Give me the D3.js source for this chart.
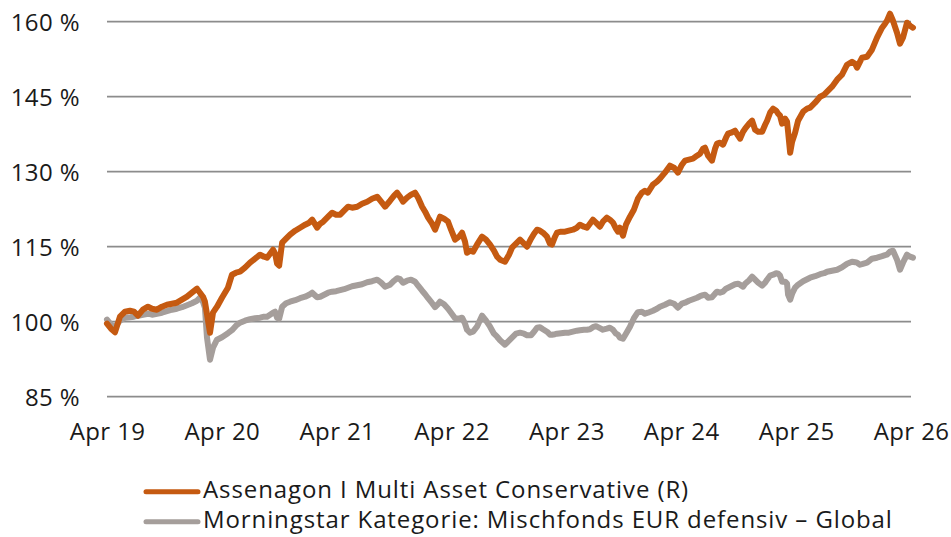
<!DOCTYPE html>
<html><head><meta charset="utf-8">
<script src="https://cdn.jsdelivr.net/npm/d3@7"></script>
<style>body{margin:0;background:#fff}text{font-family:"Open Sans",sans-serif;fill:#1a1a1a}</style>
</head><body><svg id="c" width="951" height="537"></svg>
<script>
// decimal-year dates of the readings
const dates = [2019.250,2019.285,2019.320,2019.363,2019.407,2019.450,2019.485,2019.520,2019.563,2019.607,2019.642,2019.685,2019.729,2019.772,2019.816,2019.859,2019.903,2019.947,2019.990,2020.034,2020.060,2020.086,2020.103,2020.121,2020.147,2020.173,2020.208,2020.251,2020.303,2020.338,2020.373,2020.408,2020.451,2020.495,2020.539,2020.582,2020.617,2020.643,2020.669,2020.695,2020.713,2020.730,2020.748,2020.774,2020.808,2020.843,2020.887,2020.930,2020.974,2021.009,2021.035,2021.078,2021.105,2021.131,2021.174,2021.209,2021.244,2021.279,2021.313,2021.348,2021.383,2021.427,2021.470,2021.514,2021.557,2021.601,2021.636,2021.670,2021.714,2021.749,2021.775,2021.801,2021.827,2021.862,2021.897,2021.932,2021.958,2021.993,2022.019,2022.045,2022.080,2022.106,2022.132,2022.149,2022.184,2022.219,2022.245,2022.280,2022.315,2022.341,2022.367,2022.384,2022.410,2022.437,2022.471,2022.515,2022.550,2022.585,2022.619,2022.646,2022.672,2022.715,2022.750,2022.776,2022.811,2022.846,2022.881,2022.907,2022.942,2022.968,2022.994,2023.020,2023.046,2023.081,2023.107,2023.124,2023.151,2023.168,2023.203,2023.238,2023.272,2023.307,2023.342,2023.368,2023.403,2023.429,2023.455,2023.481,2023.508,2023.542,2023.568,2023.603,2023.629,2023.656,2023.682,2023.699,2023.716,2023.743,2023.769,2023.804,2023.838,2023.873,2023.908,2023.934,2023.960,2024.004,2024.039,2024.065,2024.108,2024.152,2024.187,2024.221,2024.256,2024.282,2024.317,2024.352,2024.387,2024.413,2024.439,2024.457,2024.483,2024.517,2024.544,2024.561,2024.587,2024.613,2024.639,2024.657,2024.683,2024.718,2024.744,2024.761,2024.787,2024.805,2024.840,2024.866,2024.892,2024.918,2024.953,2024.979,2024.996,2025.022,2025.049,2025.075,2025.092,2025.109,2025.127,2025.153,2025.170,2025.179,2025.197,2025.214,2025.240,2025.266,2025.310,2025.345,2025.371,2025.414,2025.458,2025.493,2025.519,2025.562,2025.606,2025.649,2025.693,2025.736,2025.763,2025.780,2025.806,2025.823,2025.867,2025.910,2025.954,2025.998,2026.024,2026.041,2026.067,2026.093,2026.128,2026.154,2026.180,2026.215,2026.241,2026.267];

const fundValues = [99.6,98.6,97.9,101,102,102.2,102,101.2,102.4,103,102.6,102.4,103,103.4,103.6,103.8,104.4,105,105.8,106.6,105.8,105,104,101.5,97.8,101.8,103,104.8,106.8,109.4,109.8,110,110.8,111.8,112.6,113.4,113,112.8,113.6,114.4,113.6,111.6,111.2,115.8,116.6,117.4,118.2,118.8,119.4,119.8,120.4,118.8,119.6,120,121,121.8,121.4,121.4,122.2,123,122.8,123,123.6,124,124.6,125,124,123,124.2,125.2,125.8,125,124,124.8,125.4,125.8,124.8,123,122,120.8,119.6,118.4,120,121,120.6,120,118.4,116.4,117,117.8,116,113.8,114.2,114,115.4,117,116.4,115.4,114.2,113,112.4,112,113.4,114.8,115.6,116.4,115.6,115,116.6,117.6,118.4,118.2,117.8,117,115.6,115.4,117,117.8,118,118,118.2,118.4,118.8,119.4,119,118.8,119.6,120.4,119.8,119,120,120.8,120.4,119.8,118.6,118,118.8,117.2,119.4,121,122.4,124.6,125.8,126.2,125.8,127.4,128,128.6,129.8,131.2,130.8,129.8,131.4,132.2,132.4,132.6,133.2,133.6,134.6,134.8,133.2,132.2,134.6,135.6,135.8,135.4,136.8,137.6,137.8,138.2,137.2,136.6,138,138.6,139.6,140.2,138.4,138,138,139.4,140.2,141.8,142.6,142.2,141.6,141.2,139.6,140.6,140,138,133.8,136,137.8,140.2,142,142.6,142.8,143.8,145,145.4,146,147,148.4,149.4,151.4,152,151.6,150.8,152,152.8,153,154.4,156.8,158.8,159.6,160.2,161.6,160.2,157.8,155.6,156.8,159.8,159.2,158.8];

const categoryValues = [100.4,99.4,99,100.2,100.8,100.9,101,101.2,101.4,101.6,101.4,101.6,101.8,102.1,102.4,102.6,102.9,103.3,103.7,104.2,104.8,104,102.8,96.8,92.4,94.8,96.4,96.9,97.7,98.3,99.2,99.8,100.2,100.5,100.7,100.8,101,101,101.4,101.8,102,100.8,100.6,103,103.7,104,104.3,104.7,105,105.4,105.8,104.9,105,105.3,105.8,106,106.1,106.3,106.5,106.8,107.1,107.3,107.5,107.9,108.1,108.4,107.8,107,107.4,108.2,108.7,108.5,107.8,108.2,108.4,108,107.2,106.2,105.5,104.7,103.7,102.9,103.5,104,103.5,102.6,101.8,100.7,100.6,100.8,99.6,98.4,97.8,98,99,101.2,100.2,99,97.6,97,96.3,95.4,96.2,96.8,97.6,97.8,97.6,97.3,97.3,98,98.8,98.9,98.5,98,97.4,97.4,97.5,97.6,97.7,97.8,97.8,98,98.2,98.3,98.4,98.4,98.5,98.9,99.1,98.7,98.4,98.6,98.8,98.4,97.6,97.4,96.8,96.6,97.6,99,100.7,101.9,102,101.6,101.8,102.2,102.6,103,103.4,103.9,103.6,102.8,103.6,103.8,104.2,104.5,104.8,105.1,105.3,105.4,104.8,104.9,105.6,106,105.8,106,106.6,106.8,107.1,107.5,107.6,107.4,107,107.6,108.3,109,108.4,107.8,107.2,107.8,108.4,109.2,109.4,109.7,109.6,109.2,108,108,107.6,105.4,104.4,105.6,106.8,107.4,108.1,108.5,108.8,109.1,109.5,109.7,110,110.2,110.4,110.9,111.6,112,111.9,111.8,111.4,111.5,111.8,112.6,112.8,113.1,113.3,113.4,114,114.2,112.4,110.4,111.8,113.4,113,112.8];

const yTicks = [85, 100, 115, 130, 145, 160];
const xTickYears = [2019.25, 2020.25, 2021.25, 2022.25, 2023.25, 2024.25, 2025.25, 2026.25];
const xTickLabels = ["Apr 19", "Apr 20", "Apr 21", "Apr 22", "Apr 23", "Apr 24", "Apr 25", "Apr 26"];
const seriesNames = ["Assenagon I Multi Asset Conservative (R)", "Morningstar Kategorie: Mischfonds EUR defensiv \u2013 Global"];
const seriesColors = ["#C55A11", "#A59E9B"];

function toDate(v) {
  const yr = Math.floor(v), s = new Date(yr, 0, 1), e = new Date(yr + 1, 0, 1);
  return new Date(+s + (v - yr) * (e - s));
}

const svg = d3.select("#c");
const x = d3.scaleTime().domain([toDate(2019.25), toDate(2026.25)]).range([107, 911]);
const y = d3.scaleLinear().domain([85, 160]).range([396.7, 21.7]);

// grid
svg.append("g").selectAll("line").data(yTicks).join("line")
  .attr("x1", 107).attr("x2", 911)
  .attr("y1", d => y(d)).attr("y2", d => y(d))
  .attr("stroke", "#8c8c8c").attr("stroke-width", 1.8);

// y labels
const yAxis = svg.append("g").attr("transform", "translate(80,0)")
  .call(d3.axisLeft(y).tickValues(yTicks).tickFormat(d => d + " %").tickSize(0).tickPadding(0));
yAxis.select(".domain").remove();
yAxis.selectAll("text").attr("font-size", 24).attr("font-family", "Open Sans").attr("fill", "#1a1a1a")
  .attr("letter-spacing", 0.4).attr("dy", "0.36em");

// x labels
const xAxis = svg.append("g").attr("transform", "translate(0,423)")
  .call(d3.axisBottom(x).tickValues(xTickYears.map(toDate)).tickFormat((d, i) => xTickLabels[i]).tickSize(0).tickPadding(0));
xAxis.select(".domain").remove();
xAxis.selectAll("text").attr("font-size", 24).attr("font-family", "Open Sans").attr("fill", "#1a1a1a")
  .attr("letter-spacing", 0.4);

// lines
const series = [categoryValues, fundValues];
const cols = [seriesColors[1], seriesColors[0]];
series.forEach((vals, k) => {
  const line = d3.line().x((d, i) => x(toDate(dates[i]))).y(d => y(d));
  svg.append("path").datum(vals).attr("d", line)
    .attr("fill", "none").attr("stroke", cols[k]).attr("stroke-width", 6)
    .attr("stroke-linejoin", "round").attr("stroke-linecap", "round");
});

// legend
const leg = svg.append("g");
seriesNames.forEach((n, i) => {
  const cy = 491.7 + i * 30;
  leg.append("line").attr("x1", 146).attr("x2", 198).attr("y1", cy).attr("y2", cy)
    .attr("stroke", seriesColors[i]).attr("stroke-width", 5).attr("stroke-linecap", "round");
  leg.append("text").attr("x", 203).attr("y", cy + 6)
    .attr("font-size", 24).attr("letter-spacing", 0.9).text(n);
});
</script></body></html>
